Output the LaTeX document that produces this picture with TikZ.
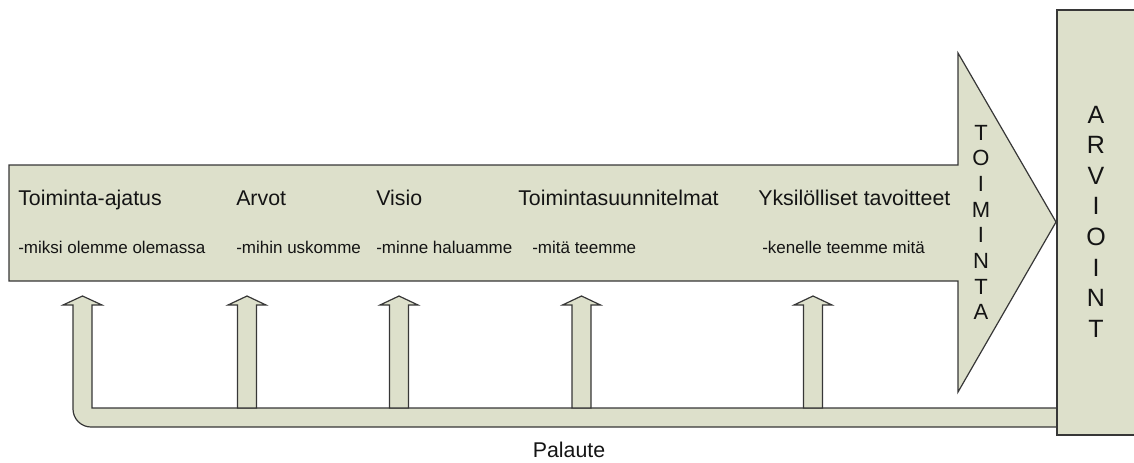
\documentclass[tikz,border=0pt]{standalone}
\usepackage{fontspec}
\setmainfont{Liberation Sans}
\definecolor{boxfill}{RGB}{221,224,203}
\definecolor{edgecol}{RGB}{55,55,55}
\definecolor{txtcol}{RGB}{20,20,20}
\begin{document}
\begin{tikzpicture}[x=0.75pt,y=-0.75pt,
  blockshape/.style={fill=boxfill,draw=edgecol,line width=0.9pt,line join=miter},
  headtxt/.style={inner sep=0pt,anchor=base west,text=txtcol,font=\fontsize{16pt}{19pt}\selectfont},
  subtxt/.style={inner sep=0pt,anchor=base west,text=txtcol,font=\fontsize{12.75pt}{15pt}\selectfont},
  vleta/.style={inner sep=0pt,anchor=base,text=txtcol,font=\fontsize{16.5pt}{19pt}\selectfont},
  vletb/.style={inner sep=0pt,anchor=base,text=txtcol,font=\fontsize{18.75pt}{22pt}\selectfont}]
\useasboundingbox (0,0) rectangle (1134,462);
% main arrow
\draw[blockshape] (9,165) -- (958,165) -- (958,53) -- (1056,222) -- (958,392) -- (958,281) -- (9,281) -- cycle;
% feedback arrow
\draw[blockshape] (1060,408) -- (92,408) -- (92,305) -- (102,305) -- (82.5,296) -- (63,305) -- (73,305) -- (73,409)
  .. controls (73,418.9) and (81.1,427) .. (91,427) -- (1060,427);
% small upward arrows
\foreach \c in {247,399,581.5,813}
  \draw[blockshape] (\c-9.5,408) -- (\c-9.5,305) -- (\c-19,305) -- (\c,296) -- (\c+19,305) -- (\c+9.5,305) -- (\c+9.5,408) -- cycle;
% evaluation box
\fill[boxfill] (1057,10) rectangle (1140,435);
\draw[edgecol,line width=0.9pt] (1140,10) -- (1057,10) -- (1057,435) -- (1140,435);
% texts
\node[headtxt] (h1) at (18,205) {Toiminta-ajatus};
\node[headtxt] (h2) at (236,205) {Arvot};
\node[headtxt] (h3) at (376,205) {Visio};
\node[headtxt] (h4) at (518,205) {Toimintasuunnitelmat};
\node[headtxt] (h5) at (758,205) {Yksilölliset tavoitteet};
\node[subtxt] (s1) at (18,253) {-miksi olemme olemassa};
\node[subtxt] (s2) at (236,253) {-mihin uskomme};
\node[subtxt] (s3) at (376,253) {-minne haluamme};
\node[subtxt] (s4) at (532,253) {-mitä teemme};
\node[subtxt] (s5) at (762,253) {-kenelle teemme mitä};
\node[inner sep=0pt,anchor=base,text=txtcol,font=\fontsize{16pt}{19pt}\selectfont] (pal) at (569,457) {Palaute};
\foreach \l [count=\i from 0] in {T,O,I,M,I,N,T,A}
  \node[vleta] (tm\i) at (981,140+25.7*\i) {\l};
\foreach \l [count=\i from 0] in {A,R,V,I,O,I,N,T}
  \node[vletb] (ar\i) at (1096,123+30.6*\i) {\l};
\end{tikzpicture}
\end{document}
